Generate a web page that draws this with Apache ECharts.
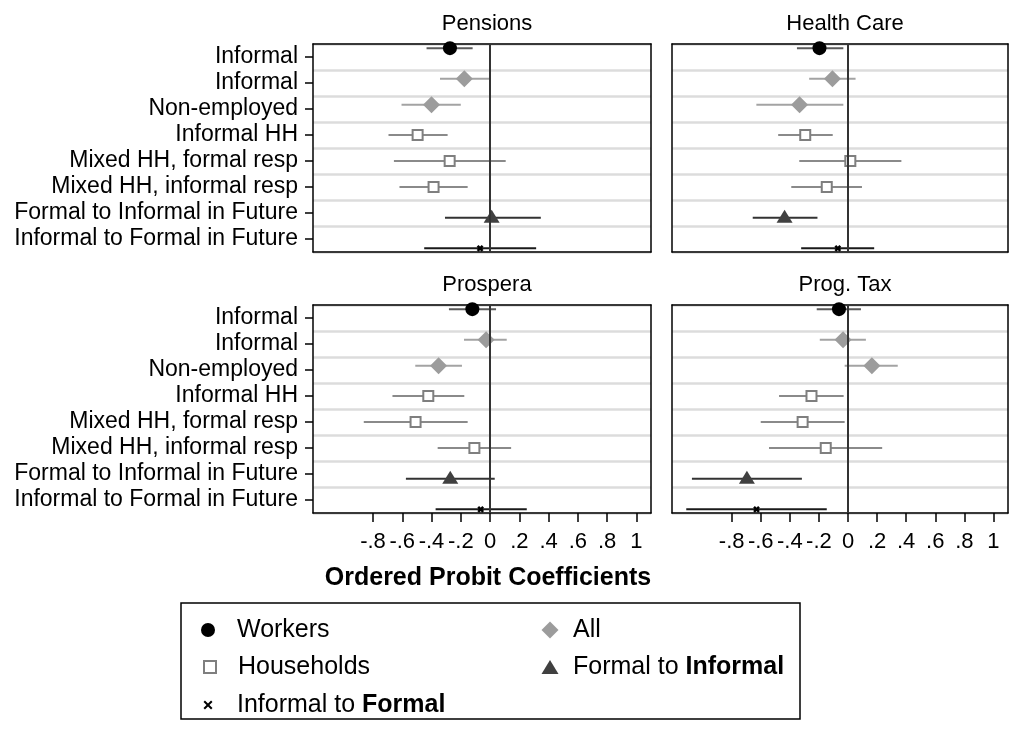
<!DOCTYPE html>
<html>
<head>
<meta charset="utf-8">
<script src="https://cdn.jsdelivr.net/npm/echarts@6/dist/echarts.min.js"></script>
<style>
  html, body { margin: 0; padding: 0; background: #fff; }
  #chart { width: 1010px; height: 731px; }
</style>
</head>
<body>
<div id="chart"></div>
<script>
// Row labels (top to bottom)
const rowLabels = [
  'Informal',
  'Informal',
  'Non-employed',
  'Informal HH',
  'Mixed HH, formal resp',
  'Mixed HH, informal resp',
  'Formal to Informal in Future',
  'Informal to Formal in Future'
];

const panelTitles = ['Pensions', 'Health Care', 'Prospera', 'Prog. Tax'];
const axisTitle = 'Ordered Probit Coefficients';

const tickValues = [-0.8, -0.6, -0.4, -0.2, 0, 0.2, 0.4, 0.6, 0.8, 1];
const tickLabels = ['-.8', '-.6', '-.4', '-.2', '0', '.2', '.4', '.6', '.8', '1'];

// Coefficients and confidence bounds, one entry per row
const pensionsCoef = [-0.274, -0.176, -0.400, -0.495, -0.276, -0.386, 0.011, -0.068];
const pensionsLow  = [-0.434, -0.342, -0.605, -0.694, -0.657, -0.619, -0.308, -0.450];
const pensionsHigh = [-0.119, -0.007, -0.200, -0.290, 0.107, -0.153, 0.347, 0.315];

const healthCoef = [-0.196, -0.107, -0.333, -0.294, 0.016, -0.146, -0.436, -0.070];
const healthLow  = [-0.351, -0.267, -0.630, -0.480, -0.335, -0.390, -0.655, -0.322];
const healthHigh = [-0.032, 0.052, -0.032, -0.105, 0.367, 0.096, -0.210, 0.180];

const prosperaCoef = [-0.121, -0.027, -0.352, -0.422, -0.509, -0.107, -0.272, -0.064];
const prosperaLow  = [-0.281, -0.178, -0.511, -0.667, -0.863, -0.358, -0.575, -0.372];
const prosperaHigh = [0.041, 0.114, -0.192, -0.176, -0.153, 0.144, 0.032, 0.251];

const progTaxCoef = [-0.062, -0.034, 0.164, -0.251, -0.312, -0.153, -0.695, -0.629];
const progTaxLow  = [-0.215, -0.194, -0.023, -0.474, -0.600, -0.543, -1.073, -1.112];
const progTaxHigh = [0.089, 0.123, 0.342, -0.030, -0.023, 0.235, -0.317, -0.146];

// Which rows belong to which group
const groupNames = ['Workers', 'All', 'Households', 'Formal to Informal', 'Informal to Formal'];
const groupRows = [[0], [1, 2], [3, 4, 5], [6], [7]];

const FONT = '"Liberation Sans", Arial, Helvetica, sans-serif';

const panels = [
  { title: panelTitles[0], coef: pensionsCoef, low: pensionsLow, high: pensionsHigh },
  { title: panelTitles[1], coef: healthCoef, low: healthLow, high: healthHigh },
  { title: panelTitles[2], coef: prosperaCoef, low: prosperaLow, high: prosperaHigh },
  { title: panelTitles[3], coef: progTaxCoef, low: progTaxLow, high: progTaxHigh }
];

const gridBoxes = [
  { left: 313, top: 44, width: 338, height: 208 },
  { left: 672, top: 44, width: 336, height: 208 },
  { left: 313, top: 305, width: 338, height: 208 },
  { left: 672, top: 305, width: 336, height: 208 }
];

const X_MIN = -1.21, X_MAX = 1.1;

// Marker look and vertical offset (fraction of a row) for each group
const groupStyles = [
  { marker: 'circle',   size: 14, fill: '#000000', stroke: null,      ci: '#5a5a5a', offset: -0.34 },
  { marker: 'diamond',  size: 17, fill: '#9c9c9c', stroke: null,      ci: '#a3a3a3', offset: -0.16 },
  { marker: 'square',   size: 10, fill: '#ffffff', stroke: '#7f7f7f', ci: '#8a8a8a', offset: 0 },
  { marker: 'triangle', size: 16, fill: '#404040', stroke: null,      ci: '#333333', offset: 0.18 },
  { marker: 'cross',    size: 7,  fill: null,      stroke: '#000000', ci: '#1a1a1a', offset: 0.36 }
];

function markerShape(st, x, y) {
  const s = st.size, h = s / 2;
  switch (st.marker) {
    case 'circle':
      return { type: 'circle', shape: { cx: x, cy: y, r: h }, style: { fill: st.fill } };
    case 'diamond':
      return { type: 'polygon', shape: { points: [[x, y - h], [x + h, y], [x, y + h], [x - h, y]] }, style: { fill: st.fill } };
    case 'square':
      return { type: 'rect', shape: { x: x - h, y: y - h, width: s, height: s }, style: { fill: st.fill, stroke: st.stroke, lineWidth: 2 } };
    case 'triangle':
      return { type: 'polygon', shape: { points: [[x, y - h], [x + h, y + h * 0.62], [x - h, y + h * 0.62]] }, style: { fill: st.fill } };
    default:
      return {
        type: 'group',
        children: [
          { type: 'line', shape: { x1: x - h / 1.4, y1: y - h / 1.4, x2: x + h / 1.4, y2: y + h / 1.4 }, style: { stroke: st.stroke, lineWidth: 2.5 } },
          { type: 'line', shape: { x1: x - h / 1.4, y1: y + h / 1.4, x2: x + h / 1.4, y2: y - h / 1.4 }, style: { stroke: st.stroke, lineWidth: 2.5 } }
        ]
      };
  }
}

function makeRenderer(st) {
  return function (params, api) {
    const row = api.value(0);
    const c = api.coord([api.value(1), row]);
    const band = api.size([0, 1])[1];
    const y = c[1] + st.offset * band;
    const xLo = api.coord([api.value(2), row])[0];
    const xHi = api.coord([api.value(3), row])[0];
    return {
      type: 'group',
      children: [
        { type: 'line', shape: { x1: xLo, y1: y, x2: xHi, y2: y }, style: { stroke: st.ci, lineWidth: 2 } },
        markerShape(st, c[0], y)
      ]
    };
  };
}

const grids = [], xAxes = [], yAxes = [], series = [], titles = [];
const boxLine = { show: true, onZero: false, lineStyle: { color: '#000', width: 1.5 } };

panels.forEach(function (p, i) {
  const g = gridBoxes[i];
  const bottomRow = i >= 2;
  const leftCol = i % 2 === 0;
  grids.push({ left: g.left, top: g.top, width: g.width, height: g.height, containLabel: false });

  // bottom value axis
  xAxes.push({
    type: 'value', gridIndex: i, position: 'bottom', min: X_MIN, max: X_MAX, z: 1,
    axisLine: boxLine,
    splitLine: { show: false },
    axisTick: { show: bottomRow, customValues: tickValues, length: 9, lineStyle: { color: '#000', width: 1.5 } },
    axisLabel: {
      show: bottomRow, customValues: tickValues, margin: 18, fontSize: 22, color: '#000', fontFamily: FONT,
      formatter: function (v) {
        const k = tickValues.findIndex(function (t) { return Math.abs(t - v) < 1e-9; });
        return k >= 0 ? tickLabels[k] : '';
      }
    }
  });
  // top edge of the frame
  xAxes.push({
    type: 'value', gridIndex: i, position: 'top', min: X_MIN, max: X_MAX, z: 1,
    axisLine: boxLine, axisTick: { show: false }, axisLabel: { show: false }, splitLine: { show: false }
  });

  // row axis with separators
  yAxes.push({
    type: 'category', gridIndex: i, position: 'left', inverse: true, data: rowLabels, z: 0,
    axisLine: boxLine,
    axisTick: { show: leftCol, alignWithLabel: true, length: 8, lineStyle: { color: '#000', width: 1.5 } },
    axisLabel: { show: leftCol, interval: 0, margin: 15, fontSize: 23, color: '#000', fontFamily: FONT },
    splitLine: { show: true, interval: 0, lineStyle: { color: '#dcdcdc', width: 2.5 } }
  });
  // right edge of the frame
  yAxes.push({
    type: 'value', gridIndex: i, position: 'right', min: 0, max: 1, z: 1,
    axisLine: boxLine, axisTick: { show: false }, axisLabel: { show: false }, splitLine: { show: false }
  });

  // reference line at zero
  series.push({
    type: 'scatter', name: 'zero', xAxisIndex: 2 * i, yAxisIndex: 2 * i, data: [], z: 2, silent: true,
    markLine: {
      silent: true, symbol: ['none', 'none'], label: { show: false },
      lineStyle: { color: '#333333', width: 2, type: 'solid' },
      emphasis: { disabled: true },
      data: [{ xAxis: 0 }]
    }
  });

  groupNames.forEach(function (name, gi) {
    const st = groupStyles[gi];
    series.push({
      type: 'custom', name: name, xAxisIndex: 2 * i, yAxisIndex: 2 * i, z: 3,
      itemStyle: { color: st.fill || st.stroke },
      encode: { x: [1, 2, 3], y: 0 },
      renderItem: makeRenderer(st),
      data: groupRows[gi].map(function (r) { return [r, p.coef[r], p.low[r], p.high[r]]; })
    });
  });

  titles.push({
    text: p.title, left: g.left + g.width / 2, top: g.top - 36, textAlign: 'center',
    textStyle: { fontSize: 22, fontWeight: 'normal', color: '#000', fontFamily: FONT }
  });
});

titles.push({
  text: axisTitle, left: 483, top: 561, textAlign: 'center',
  textStyle: { fontSize: 25, fontWeight: 'bold', color: '#000', fontFamily: FONT }
});

// Legend: one component per entry, laid out in two columns
const LEGEND_FONT = 25, LEGEND_LH = 30;
const crossIcon = 'path://M0,1.6L1.6,0L5,3.4L8.4,0L10,1.6L6.6,5L10,8.4L8.4,10L5,6.6L1.6,10L0,8.4L3.4,5Z';
const legendIcons = [
  { icon: 'circle', w: 14, h: 14, itemStyle: { color: '#000' } },
  { icon: 'diamond', w: 17, h: 17, itemStyle: { color: '#9c9c9c' } },
  { icon: 'rect', w: 12, h: 12, itemStyle: { color: '#fff', borderColor: '#7f7f7f', borderWidth: 2 } },
  { icon: 'triangle', w: 17, h: 14, itemStyle: { color: '#404040' } },
  { icon: crossIcon, w: 9, h: 9, itemStyle: { color: '#000' } }
];
// icon centre and text start for each entry
const legendSpots = [
  { cx: 208, tx: 237, y: 630 }, { cx: 550, tx: 573, y: 630 },
  { cx: 209, tx: 237, y: 667 }, { cx: 550, tx: 573, y: 667 },
  { cx: 208, tx: 237, y: 705 }
];
const legendText = {
  'Workers': '{n|Workers}',
  'All': '{n|All}',
  'Households': '{n|Households}',
  'Formal to Informal': '{n|Formal to }{b|Informal}',
  'Informal to Formal': '{n|Informal to }{b|Formal}'
};
const legends = groupNames.map(function (name, gi) {
  const li = legendIcons[gi];
  const spot = legendSpots[gi];
  const left = spot.cx - li.w / 2;
  const gap = spot.tx - (left + li.w + 5);
  return {
    show: true, orient: 'horizontal', left: left, top: spot.y - LEGEND_LH / 2, padding: 0,
    itemWidth: li.w, itemHeight: li.h, itemGap: 0, selectedMode: false,
    data: [{ name: name, icon: li.icon, itemStyle: li.itemStyle }],
    formatter: function (n) { return '{sp| }' + legendText[n]; },
    textStyle: {
      fontSize: LEGEND_FONT, lineHeight: LEGEND_LH, color: '#000', fontFamily: FONT,
      rich: {
        sp: { width: gap, fontSize: LEGEND_FONT, lineHeight: LEGEND_LH },
        n: { fontSize: LEGEND_FONT, lineHeight: LEGEND_LH, color: '#000', fontFamily: FONT },
        b: { fontSize: LEGEND_FONT, lineHeight: LEGEND_LH, color: '#000', fontFamily: FONT, fontWeight: 'bold' }
      }
    }
  };
});

const chart = echarts.init(document.getElementById('chart'), null, { renderer: 'canvas' });
chart.setOption({
  animation: false,
  backgroundColor: '#fff',
  title: titles,
  grid: grids,
  xAxis: xAxes,
  yAxis: yAxes,
  legend: legends,
  series: series,
  graphic: [{
    type: 'rect', z: 0, silent: true,
    shape: { x: 181, y: 603, width: 619, height: 116 },
    style: { fill: 'none', stroke: '#000', lineWidth: 1.5 }
  }]
});
</script>
</body>
</html>
